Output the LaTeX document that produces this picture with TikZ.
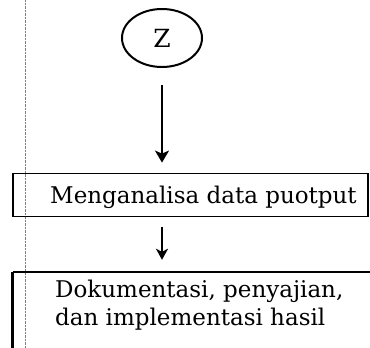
\documentclass[tikz,border=0pt]{standalone}
\usepackage{fontspec}
\setmainfont{DejaVu Serif}
\usetikzlibrary{shapes.geometric,arrows.meta}
\begin{document}
\begin{tikzpicture}[x=1pt,y=-1pt,
  flowline/.style={line width=2pt,-{Stealth[length=12pt,width=14pt,inset=3pt]}},
  procbox/.style={draw,line width=1.8pt,inner sep=0pt},
  txt/.style={font=\fontsize{23}{28}\selectfont}]
\useasboundingbox (0,0) rectangle (370,348);
\draw[gray,densely dotted,thin] (25,0) -- (25,348);
\node[ellipse,draw,line width=2pt,minimum width=80pt,minimum height=58pt,inner sep=0pt,
  font=\fontsize{25}{27}\selectfont] (z) at (162,38) {Z};
\node[procbox,minimum width=355pt,minimum height=43pt] (b1) at (190.5,195) {};
\node[txt,anchor=base west,inner sep=0pt] (t1) at (50,203) {Menganalisa data puotput};
\node[minimum width=357pt,minimum height=90pt,inner sep=0pt] (b2) at (191.5,317) {};
\draw[line width=1.8pt] (b2.north west) -- (b2.north east);
\draw[line width=2.8pt] (b2.north west) -- (b2.south west);
\node[txt,anchor=base west,align=left,inner sep=0pt] (t2) at (55,325)
  {Dokumentasi, penyajian,\\dan implementasi hasil};
\coordinate (a1) at (b1.north -| z.south);
\coordinate (a2s) at (b1.south -| z.south);
\coordinate (a2e) at (b2.north -| z.south);
\draw[flowline,shorten <=17pt,shorten >=10pt] (z.south) -- (a1);
\draw[line width=2pt,-{Stealth[length=11pt,width=12pt,inset=3pt]},shorten <=10pt,shorten >=12pt] (a2s) -- (a2e);
\end{tikzpicture}
\end{document}
